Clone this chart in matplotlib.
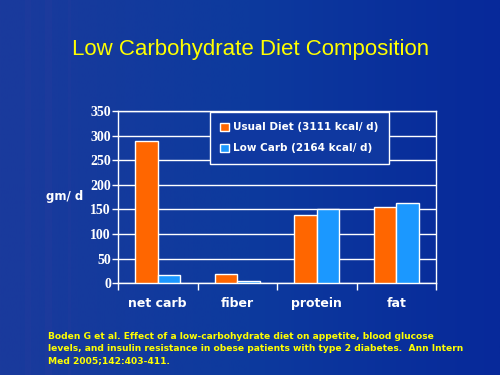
import matplotlib
matplotlib.use("Agg")
import matplotlib.pyplot as plt
import numpy as np
from matplotlib.patches import Rectangle
from matplotlib.colors import LinearSegmentedColormap

categories = ["net carb", "fiber", "protein", "fat"]
usual = [289, 18, 138, 154]
lowcarb = [17, 4, 150, 164]
series_labels = ["Usual Diet (3111 kcal/ d)", "Low Carb (2164 kcal/ d)"]
yticks = [0, 50, 100, 150, 200, 250, 300, 350]

fig = plt.figure(figsize=(5, 3.75), dpi=100)

# background gradient
bg = fig.add_axes([0, 0, 1, 1], zorder=-10)
grad = np.linspace(0, 1, 256)[None, :]
cmap = LinearSegmentedColormap.from_list("bg", ["#1a3a9c", "#0d3a9e", "#07299a"])
bg.imshow(grad, aspect="auto", cmap=cmap, extent=[0, 1, 0, 1])
for x0, w, a in [(0.05, 0.012, 0.07), (0.09, 0.014, 0.08), (0.135, 0.006, 0.07)]:
    bg.add_patch(Rectangle((x0, 0), w, 1, color="#5a3aa0", alpha=a, lw=0))
bg.set_xlim(0, 1); bg.set_ylim(0, 1)
bg.axis("off")

ax = fig.add_axes([0.236, 0.2445, 0.636, 0.4595])
ax.set_facecolor("none")
x = np.arange(len(categories))
w = 0.285
ax.bar(x - w/2, usual, w, color="#ff6600", edgecolor="white", linewidth=1, label=series_labels[0], zorder=3)
ax.bar(x + w/2, lowcarb, w, color="#1b98ff", edgecolor="white", linewidth=1, label=series_labels[1], zorder=3)

ax.set_xlim(-0.5, 3.5)
ax.set_ylim(0, 350)
ax.set_yticks(yticks)
ax.set_yticklabels([str(v) for v in yticks], family="Liberation Serif", fontweight="bold",
                   fontsize=10, color="white")
ax.yaxis.grid(True, color="white", linewidth=1, zorder=0)
ax.set_axisbelow(True)
ax.tick_params(axis="y", colors="white", length=4, width=1, pad=1)
ax.set_xticks(x)
ax.set_xticklabels(categories, fontweight="bold", fontsize=9, color="white",
                   family="DejaVu Sans")
ax.set_xticks([-0.5, 0.5, 1.5, 2.5, 3.5], minor=True)
ax.tick_params(axis="x", which="major", length=0, pad=10)
ax.tick_params(axis="x", which="minor", length=5, width=1, colors="white")
for s in ax.spines.values():
    s.set_color("white")
    s.set_linewidth(1)

fig.text(0.13, 0.475, "gm/ d", color="white", fontweight="bold", fontsize=8.5,
         ha="center", va="center")

leg = ax.legend(loc="upper left", bbox_to_anchor=(0.289, 0.994), frameon=True,
                fancybox=False, facecolor="#0f38a0", edgecolor="white",
                labelcolor="white", prop={"weight": "bold", "size": 7.5},
                handlelength=0.8, handleheight=0.8, handletextpad=0.4,
                borderpad=1.0, labelspacing=1.05, borderaxespad=0)
leg.get_frame().set_linewidth(1)
leg.get_frame().set_alpha(1)

fig.text(0.502, 0.867, "Low Carbohydrate Diet Composition", color="#ffff00",
         fontsize=16, ha="center", va="center", family="Liberation Sans")

fig.text(0.096, 0.026,
         "Boden G et al. Effect of a low-carbohydrate diet on appetite, blood glucose\n"
         "levels, and insulin resistance in obese patients with type 2 diabetes.  Ann Intern\n"
         "Med 2005;142:403-411.",
         color="#ffff00", fontsize=6.6, fontweight="bold", ha="left", va="bottom",
         linespacing=1.45, family="DejaVu Sans")

fig.savefig("out.png", dpi=100)
